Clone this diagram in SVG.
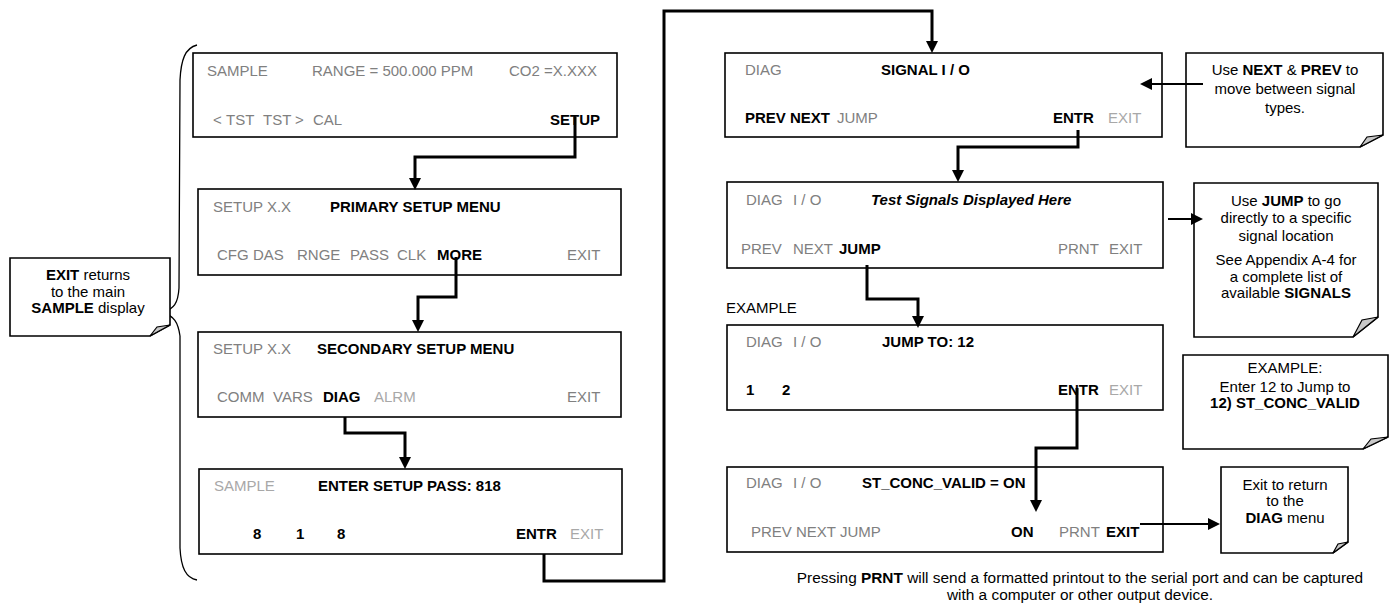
<svg xmlns="http://www.w3.org/2000/svg" width="1398" height="612" viewBox="0 0 1398 612">
<style>
text{font-family:"Liberation Sans",Arial,sans-serif;font-size:15px;fill:#000}
.g{fill:#808080}
.l{fill:#a8a8a8}
.b{font-weight:bold}
.bi{font-weight:bold;font-style:italic}
.box{fill:#fff;stroke:#000;stroke-width:1.6}
.note{fill:#fff;stroke:#000;stroke-width:1.6}
.fold{fill:#c8c8c8;stroke:#000;stroke-width:1.2}
.c{fill:none;stroke:#000;stroke-width:3}
.c2{fill:none;stroke:#000;stroke-width:2}
.m{text-anchor:middle}
.br{fill:none;stroke:#000;stroke-width:1.3}
.ft{font-size:15.4px}
</style>
<defs>
<marker id="ah" viewBox="0 0 10 10" markerWidth="12" markerHeight="12" refX="3.333" refY="5" orient="auto" markerUnits="userSpaceOnUse">
<path d="M0,0 L10,5 L0,10 z" fill="#000"/>
</marker>
</defs>

<g id="bracket">
<path class="br" d="M197,45 C185,48 181,60 180,80 L179,288 C178,304 174,308 163,313 C174,316 178,322 180,336 L180,548 C181,568 186,578 197,580"/>
</g>

<g id="note-exit">
<path class="note" d="M10,258 H170 V325 L150,336 H10 Z"/>
<path class="fold" d="M150,336 L170,325 L157,327 Z"/>
<text class="m" x="88" y="280"><tspan class="b">EXIT</tspan> returns</text>
<text class="m" x="88" y="297">to the main</text>
<text class="m" x="88" y="313"><tspan class="b">SAMPLE</tspan> display</text>
</g>

<g id="box1">
<rect class="box" x="193" y="53" width="424" height="84"/>
<text class="g" x="207" y="76">SAMPLE</text>
<text class="g" x="312" y="76">RANGE = 500.000 PPM</text>
<text class="g" x="509" y="76">CO2 =X.XXX</text>
<text class="g" y="125"><tspan x="213">&lt;</tspan><tspan x="226">TST</tspan><tspan x="263">TST</tspan><tspan x="295">&gt;</tspan><tspan x="313">CAL</tspan></text>
<text class="b" x="600" y="125" text-anchor="end">SETUP</text>
</g>

<g id="box2">
<rect class="box" x="198" y="189" width="423" height="86"/>
<text class="g" x="213" y="212">SETUP X.X</text>
<text class="b" x="330" y="212">PRIMARY SETUP MENU</text>
<text class="g" y="260"><tspan x="217">CFG</tspan><tspan x="253">DAS</tspan><tspan x="297">RNGE</tspan><tspan x="350">PASS</tspan><tspan x="397">CLK</tspan></text>
<text class="b" x="437" y="260">MORE</text>
<text class="g" x="567" y="260">EXIT</text>
</g>

<g id="box3">
<rect class="box" x="198" y="332" width="423" height="85"/>
<text class="g" x="213" y="354">SETUP X.X</text>
<text class="b" x="317" y="354">SECONDARY SETUP MENU</text>
<text class="g" y="402"><tspan x="217">COMM</tspan><tspan x="273">VARS</tspan></text>
<text class="b" x="323" y="402">DIAG</text>
<text class="l" x="374" y="402">ALRM</text>
<text class="g" x="567" y="402">EXIT</text>
</g>

<g id="box4">
<rect class="box" x="199" y="469" width="423" height="85"/>
<text class="l" x="214" y="491">SAMPLE</text>
<text class="b" x="318" y="491">ENTER SETUP PASS: 818</text>
<text class="b" y="539"><tspan x="253">8</tspan><tspan x="296">1</tspan><tspan x="337">8</tspan></text>
<text class="b" x="516" y="539">ENTR</text>
<text class="l" x="570" y="539">EXIT</text>
</g>

<g id="box5">
<rect class="box" x="725" y="53" width="437" height="84"/>
<text class="g" x="745" y="75">DIAG</text>
<text class="b" x="881" y="75">SIGNAL I / O</text>
<text class="b" x="745" y="123">PREV NEXT</text>
<text class="g" x="837" y="123">JUMP</text>
<text class="b" x="1053" y="123">ENTR</text>
<text class="l" x="1108" y="123">EXIT</text>
</g>

<g id="box6">
<rect class="box" x="727" y="182" width="436" height="86"/>
<text class="g" y="205"><tspan x="746">DIAG</tspan><tspan x="793">I / O</tspan></text>
<text class="bi" x="871" y="205">Test Signals Displayed Here</text>
<text class="g" y="254"><tspan x="741">PREV</tspan><tspan x="793">NEXT</tspan></text>
<text class="b" x="839" y="254">JUMP</text>
<text class="g" y="254"><tspan x="1058">PRNT</tspan><tspan x="1109">EXIT</tspan></text>
</g>

<text id="example-label" x="726" y="313">EXAMPLE</text>

<g id="box7">
<rect class="box" x="727" y="325" width="436" height="85"/>
<text class="g" y="347"><tspan x="746">DIAG</tspan><tspan x="793">I / O</tspan></text>
<text class="b" x="882" y="347">JUMP TO: 12</text>
<text class="b" y="395"><tspan x="746">1</tspan><tspan x="782">2</tspan></text>
<text class="b" x="1058" y="395">ENTR</text>
<text class="l" x="1109" y="395">EXIT</text>
</g>

<g id="box8">
<rect class="box" x="727" y="467" width="436" height="85"/>
<text class="g" y="488"><tspan x="746">DIAG</tspan><tspan x="793">I / O</tspan></text>
<text class="b" x="862" y="488">ST_CONC_VALID = ON</text>
<text class="g" x="751" y="537">PREV NEXT JUMP</text>
<text class="b" x="1011" y="537">ON</text>
<text class="g" x="1059" y="537">PRNT</text>
<text class="b" x="1106" y="537">EXIT</text>
</g>

<g id="note-next">
<path class="note" d="M1186,53 H1383 V135 L1360,147 H1186 Z"/>
<path class="fold" d="M1360,147 L1383,135 L1367,137 Z"/>
<text class="m" x="1285" y="75">Use <tspan class="b">NEXT</tspan> &amp; <tspan class="b">PREV</tspan> to</text>
<text class="m" x="1285" y="94">move between signal</text>
<text class="m" x="1285" y="113">types.</text>
</g>

<g id="note-jump">
<path class="note" d="M1194,183 H1378 V317 L1353,337 H1194 Z"/>
<path class="fold" d="M1353,337 L1378,317 L1362,320 Z"/>
<text class="m" x="1286" y="206">Use <tspan class="b">JUMP</tspan> to go</text>
<text class="m" x="1286" y="223">directly to a specific</text>
<text class="m" x="1286" y="241">signal location</text>
<text class="m" x="1286" y="265">See Appendix A-4 for</text>
<text class="m" x="1286" y="282">a complete list of</text>
<text class="m" x="1286" y="298">available <tspan class="b">SIGNALS</tspan></text>
</g>

<g id="note-example">
<path class="note" d="M1183,355 H1388 V437 L1363,449 H1183 Z"/>
<path class="fold" d="M1363,449 L1388,437 L1371,439 Z"/>
<text class="m" x="1285" y="373">EXAMPLE:</text>
<text class="m" x="1285" y="392">Enter 12 to Jump to</text>
<text class="m b" x="1285" y="408">12) ST_CONC_VALID</text>
</g>

<g id="note-exit-diag">
<path class="note" d="M1221,467 H1348 V542 L1333,553 H1221 Z"/>
<path class="fold" d="M1333,553 L1348,542 L1338,544 Z"/>
<text class="m" x="1285" y="490">Exit to return</text>
<text class="m" x="1285" y="506">to the</text>
<text class="m" x="1285" y="523"><tspan class="b">DIAG</tspan> menu</text>
</g>

<text id="footer1" class="m ft" x="1080" y="583">Pressing <tspan class="b">PRNT</tspan> will send a formatted printout to the serial port and can be captured</text>
<text id="footer2" class="m ft" x="1080" y="600">with a computer or other output device.</text>

<g id="connectors">
<path class="c" d="M575,117 V157 H415 V182" marker-end="url(#ah)"/>
<path class="c" d="M456,257 V297 H418 V324" marker-end="url(#ah)"/>
<path class="c" d="M345,417 V433 H405 V461" marker-end="url(#ah)"/>
<path class="c" d="M544,554 V581 H664 V11 H932 V45" marker-end="url(#ah)"/>
<path class="c2" d="M1203,84 H1148" marker-end="url(#ah)"/>
<path class="c" d="M1078,130 V147 H958 V174" marker-end="url(#ah)"/>
<path class="c2" d="M1168,219 H1195" marker-end="url(#ah)"/>
<path class="c" d="M867,265 V299 H918 V320" marker-end="url(#ah)"/>
<path class="c" d="M1077,388 V448 H1036 V504" marker-end="url(#ah)"/>
<path class="c2" d="M1140,524 H1212" marker-end="url(#ah)"/>
</g>
</svg>
